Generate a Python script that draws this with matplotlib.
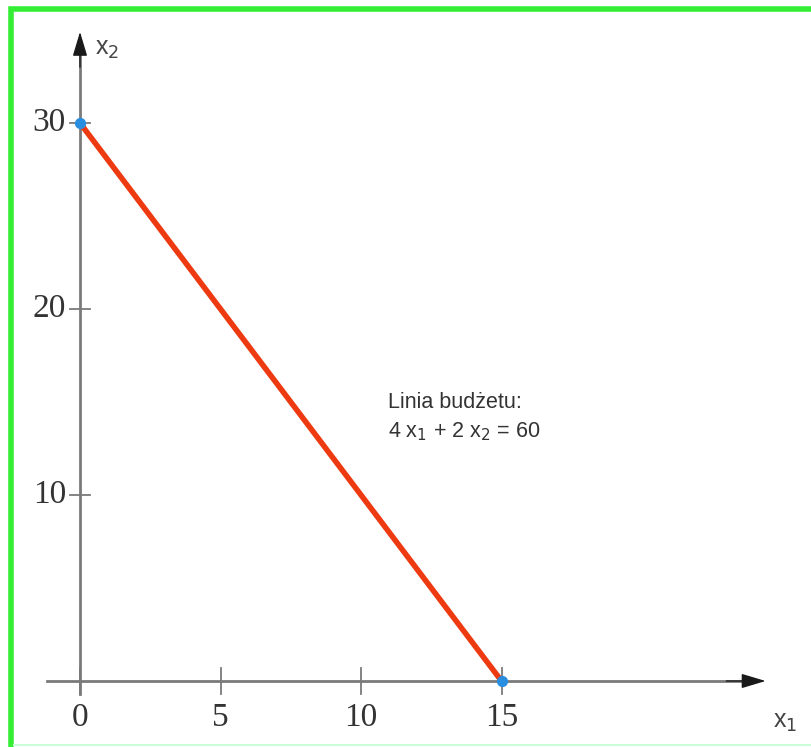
import numpy as np
import matplotlib.pyplot as plt
from matplotlib.patches import Rectangle

# budget line 4*x1 + 2*x2 = 60
x1_vals = [0, 15]
x2_vals = [30, 0]
xticks = [0, 5, 10, 15]
yticks = [10, 20, 30]
note_1 = "Linia budżetu:"
note_2 = "4 x$_1$ + 2 x$_2$ = 60"

fig = plt.figure(figsize=(8.11, 7.47), dpi=100)
ax = fig.add_axes([0, 0, 1, 1])
# pixel mapping: origin at (80, 681), 28.1 px per x unit, 18.6 px per y unit
sx, sy = 28.1, 18.6
ax.set_xlim(-80 / sx, (811 - 80) / sx)
ax.set_ylim(-(747 - 681) / sy, 681 / sy)
ax.axis('off')

axc = '#7a7a7a'
# axis stems in gray, arrow heads in near-black
ax.plot([-33 / sx, 23.8], [0, 0], color=axc, lw=2.0)
ax.plot([0, 0], [-13 / sy, 34.0], color=axc, lw=2.0)
head = dict(arrowstyle='-|>,head_length=1.5,head_width=0.45',
            lw=1.0, shrinkA=0, shrinkB=0, fc='#1a1a1a', ec='#1a1a1a')
ax.annotate('', xy=(24.4, 0), xytext=(23.0, 0), arrowprops=head)
ax.annotate('', xy=(0, 34.9), xytext=(0, 33.0), arrowprops=head)

# tick marks
for t in xticks:
    ax.plot([t, t], [-13 / sy, 13 / sy], color=axc, lw=1.3)
    ax.text(t, -22 / sy, str(t), ha='center', va='top',
            family='Liberation Serif', fontsize=24, color='#333333')
for t in yticks:
    ax.plot([-10 / sx, 10 / sx], [t, t], color=axc, lw=1.3)
    ax.text(-14 / sx, t, str(t), ha='right', va='center',
            family='Liberation Serif', fontsize=24, color='#333333')

# axis names
ax.text(15 / sx, 34.0, 'x$_2$', ha='left', va='center',
        family='Liberation Sans', fontsize=18, color='#444444')
ax.text(24.65, -2.2, 'x$_1$', ha='left', va='center',
        family='Liberation Sans', fontsize=18, color='#444444')

# budget line
ax.plot(x1_vals, x2_vals, color='#ee3a10', lw=4.0, solid_capstyle='round', zorder=3)
ax.scatter(x1_vals, x2_vals, s=50, color='#2a8ee0', zorder=4)

ax.text(10.95, 15.0, note_1, ha='left', va='center',
        family='Liberation Sans', fontsize=15.5, color='#333333')
ax.text(10.95, 13.4, note_2, ha='left', va='center',
        family='Liberation Sans', fontsize=15.5, color='#333333')

# green frame (top and left), pale line at bottom
fig.patches.append(Rectangle((11 / 811, -0.2), 1.2, 1.2 - 9 / 747,
                             transform=fig.transFigure, fill=False,
                             ec='#33ee33', lw=4))
fig.lines.append(plt.Line2D([14 / 811, 1], [2 / 747, 2 / 747],
                            transform=fig.transFigure, color='#c8ffd8', lw=1.5))

fig.savefig('out.png', dpi=100)
